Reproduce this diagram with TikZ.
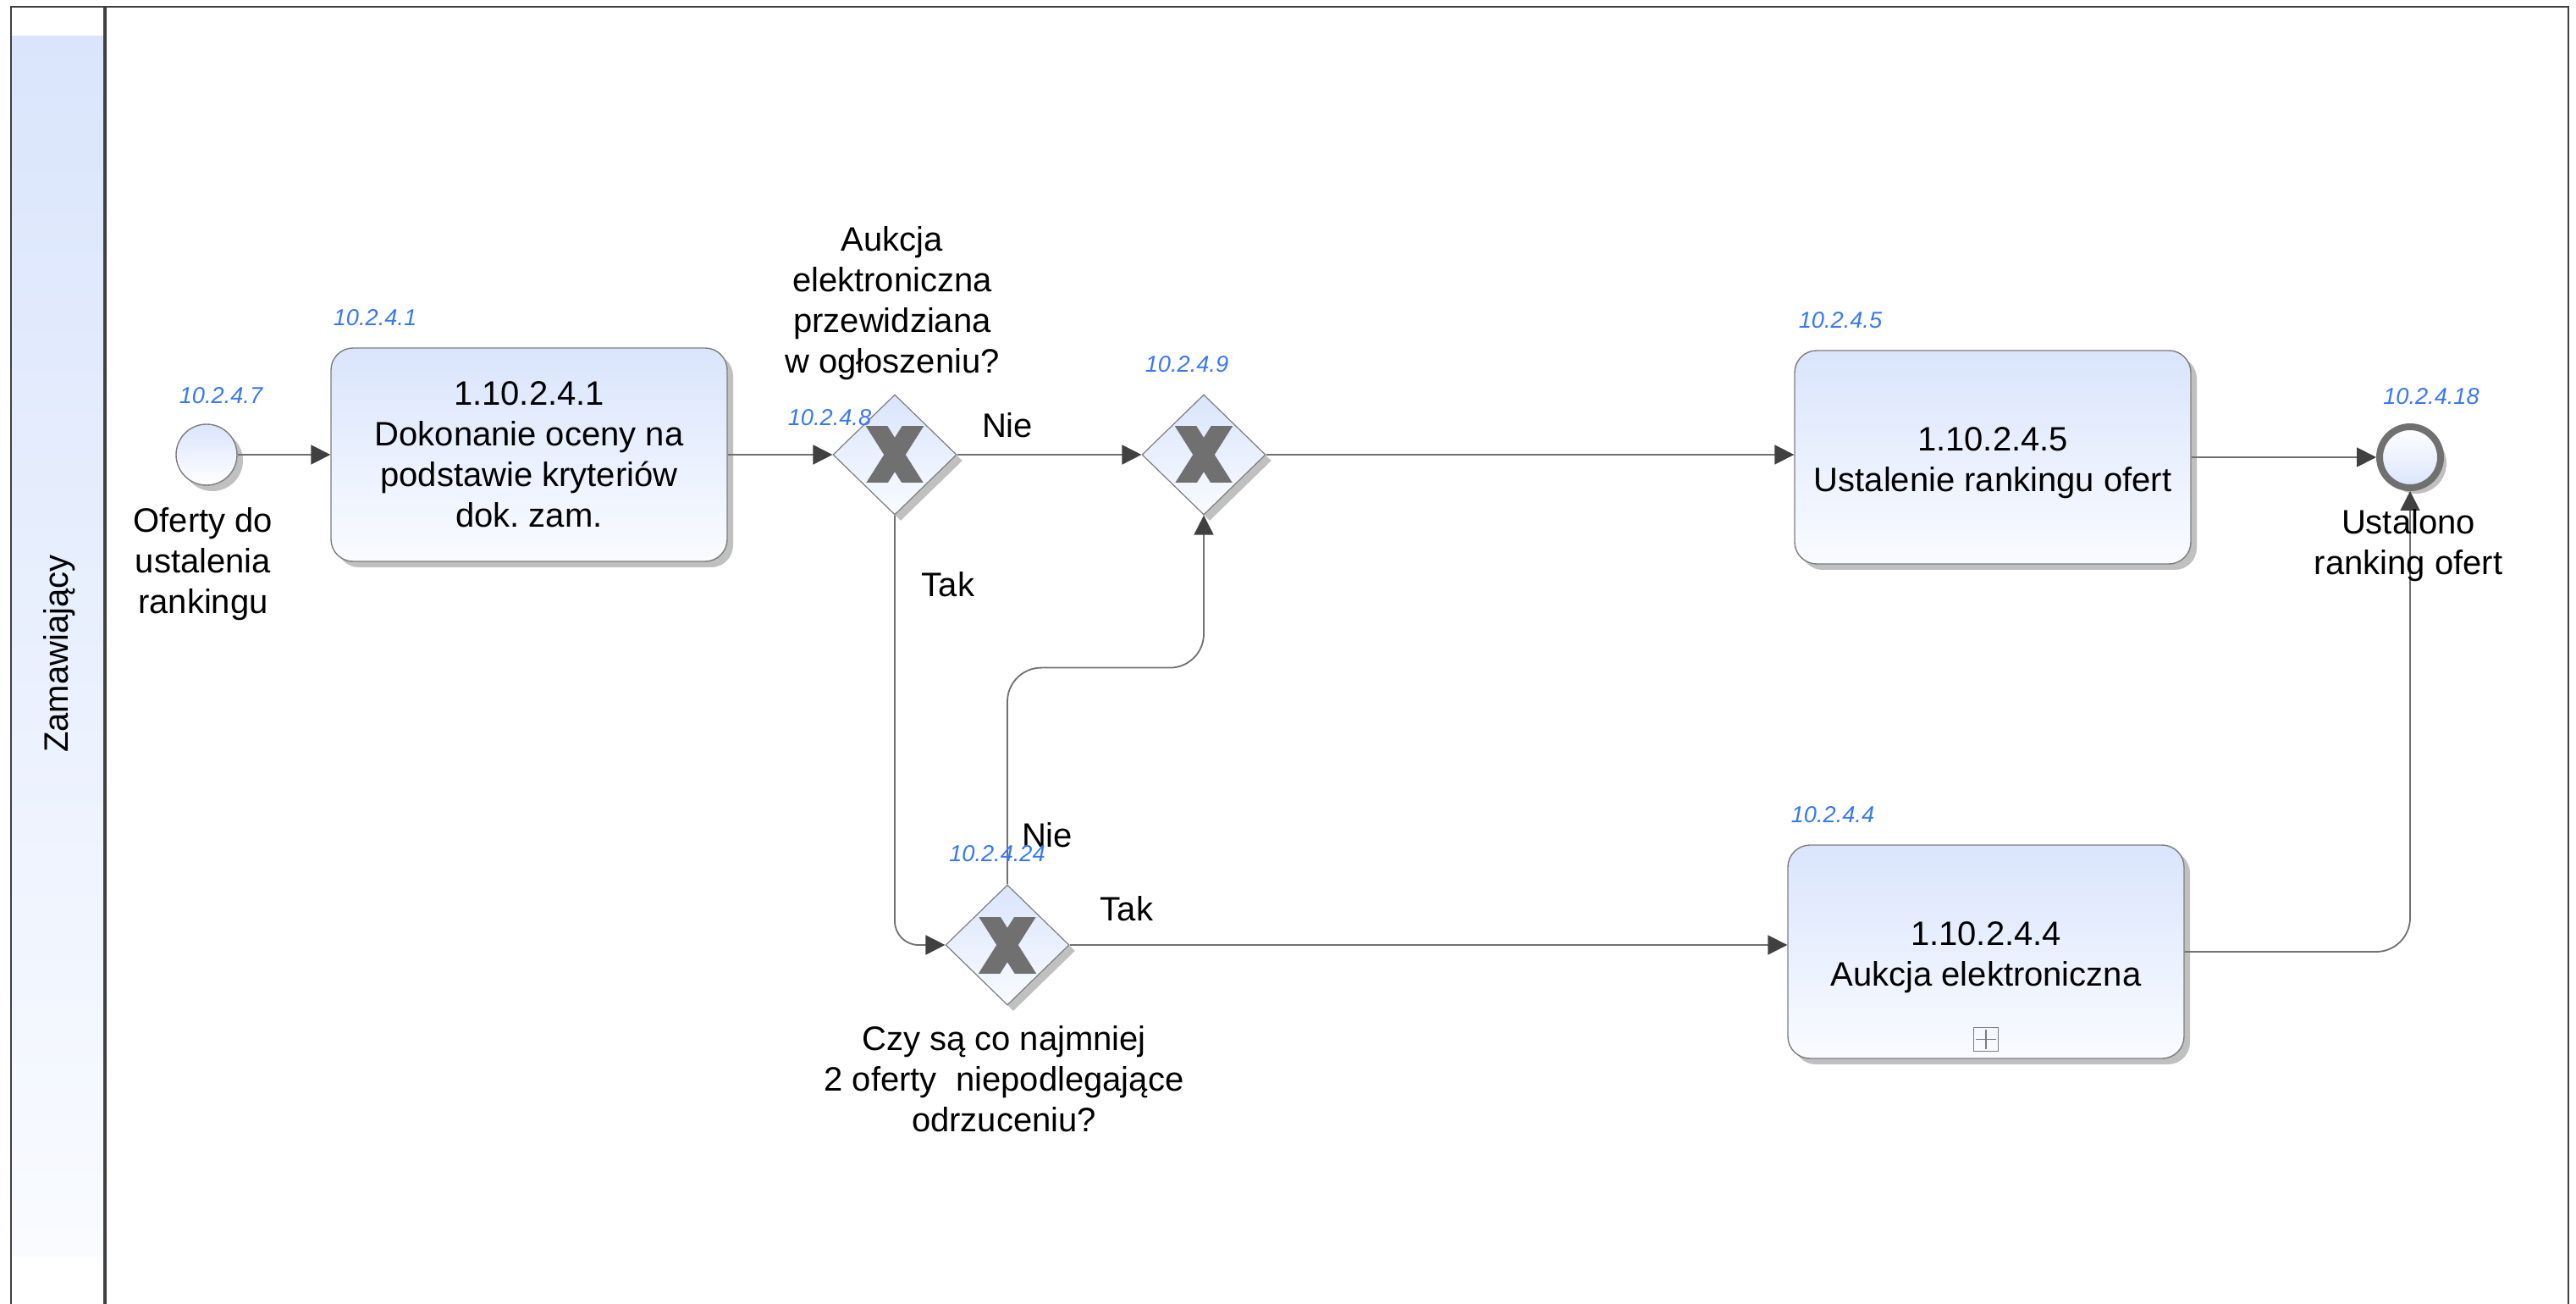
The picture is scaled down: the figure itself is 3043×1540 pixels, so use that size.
\documentclass[tikz,border=0pt]{standalone}
\usepackage{fontspec}
\setmainfont{Liberation Sans}
\usetikzlibrary{arrows.meta,shapes.geometric,shadows,calc}

\definecolor{lnc}{RGB}{112,112,112}
\definecolor{arc}{RGB}{64,64,64}
\definecolor{bdc}{RGB}{125,125,125}
\definecolor{shc}{RGB}{192,192,192}
\definecolor{idc}{RGB}{55,120,245}
\definecolor{topb}{RGB}{218,229,252}
\definecolor{botb}{RGB}{249,251,255}
\definecolor{poolc}{RGB}{64,64,64}
\definecolor{xc}{RGB}{112,112,112}

\newcommand\gwmark[1]{\begin{scope}[shift={(#1)}]\clip (-34,-33) rectangle (34,33);
  \draw[xc, line width=5.4pt] (-25,-39.5) -- (25,39.5) (25,-39.5) -- (-25,39.5);\end{scope}}

\frenchspacing
\begin{document}
\begin{tikzpicture}[x=0.25pt,y=-0.25pt,
  txt/.style={font=\fontsize{10}{12}\selectfont, text=black, inner sep=0pt, align=center},
  idl/.style={font=\fontsize{6.8}{8}\selectfont\itshape, text=idc, inner sep=0pt},
  shad/.style={drop shadow={shadow xshift=1.75pt, shadow yshift=-1.75pt, fill=shc, opacity=1}},
  task/.style={shad, rectangle, rounded corners=6.5pt, draw=bdc, line width=0.35pt, top color=topb, bottom color=botb, minimum width=117pt, minimum height=63pt, inner sep=0pt, align=center, font=\fontsize{10}{12}\selectfont},
  gw/.style={shad, diamond, draw=bdc, line width=0.3pt, top color=topb, bottom color=botb, minimum width=36.5pt, minimum height=35.5pt, inner sep=0pt},
  startev/.style={shad, circle, draw=bdc, line width=0.35pt, top color=topb, bottom color=white, minimum size=18pt, inner sep=0pt},
  endev/.style={shad, circle, draw=xc, line width=2pt, top color=white, bottom color=topb, minimum size=18pt, inner sep=0pt},
  flow/.style={draw=lnc, line width=0.45pt, -{Triangle[length=5.75pt,width=5.75pt,color=arc]}},
]
\useasboundingbox (0,0) rectangle (3043,1540);
\clip (0,0) rectangle (3043,1540);
\fill[white] (0,0) rectangle (3043,1540);

% pool and lane
\shade[top color=topb, bottom color=botb] (14,43) rectangle (123,1483);
\draw[poolc, line width=0.6pt] (13,1600) -- (13,8) -- (3034,8) -- (3034,1600);
\draw[poolc, line width=1pt] (124,8) -- (124,1600);
\node[txt, rotate=90] (lane) at (70,772) {Zamawiający};

% elements
\node[startev] (S) at (244,537) {};
\node[task] (T1) at (625,537) {1.10.2.4.1\\Dokonanie oceny na\\podstawie kryteriów\\dok. zam.};
\node[gw] (G1) at (1057,537) {};
\node[gw] (G2) at (1422,537) {};
\node[task] (T5) at (2354,540) {\rule{0pt}{10.2pt}1.10.2.4.5\\Ustalenie rankingu ofert};
\node[endev] (E) at (2847,540) {};
\node[gw] (G3) at (1190,1116) {};
\node[task] (T4) at (2346,1124) {\rule{0pt}{10.2pt}1.10.2.4.4\\Aukcja elektroniczna};
\node[draw=bdc, line width=0.35pt, minimum width=7.25pt, minimum height=7pt, inner sep=0pt] (T4m) at ($(T4.south)+(0,-23)$) {};
\draw[bdc, line width=0.35pt] ([yshift=-0.8pt]T4m.north) -- ([yshift=0.8pt]T4m.south) ([xshift=0.8pt]T4m.west) -- ([xshift=-0.8pt]T4m.east);

\gwmark{G1.center}
\gwmark{G2.center}
\gwmark{G3.center}

% connectors
\draw[flow] (S.east) -- (T1.west);
\draw[flow] (T1.east) -- (G1.west);
\draw[flow] (G1.east) -- (G2.west);
\draw[flow] (G2.east) -- (G2.east -| T5.west);
\draw[flow] (T5.east) -- (E.west);
\draw[flow, rounded corners=7pt] (G1.south) |- (G3.west);
\draw[flow, rounded corners=10pt] (G3.north) |- ($(G2.south)+(0,180)$) -- (G2.south);
\draw[flow] (G3.east) -- (G3.east -| T4.west);
\draw[flow, rounded corners=10pt] (T4.east) -| (E.south);

% labels
\node[txt, anchor=north] (Ls) at (240,599) {Oferty do\\ustalenia\\rankingu};
\node[txt, anchor=north] (Lg1) at (1054,267) {Aukcja\\elektroniczna\\przewidziana\\w ogłoszeniu?};
\node[txt, anchor=north] (Lg3) at (1186,1211) {Czy są co najmniej\\2 oferty\ \ niepodlegające\\odrzuceniu?};
\node[txt, anchor=north] (Le) at (2845,601) {Ustalono\\ranking ofert};
\node[txt, anchor=base] (n1) at (1190,517) {Nie};
\node[txt, anchor=base] (t1) at (1120,705) {Tak};
\node[txt, anchor=base] (n2) at (1237,1000) {Nie};
\node[txt, anchor=base] (t2) at (1331,1087) {Tak};

% ids
\node[idl] (i7) at (261,467) {10.2.4.7};
\node[idl] (i1) at (443,375) {10.2.4.1};
\node[idl] (i8) at (980,493) {10.2.4.8};
\node[idl] (i9) at (1402,430) {10.2.4.9};
\node[idl] (i5) at (2174,378) {10.2.4.5};
\node[idl] (i18) at (2872,468) {10.2.4.18};
\node[idl] (i24) at (1178,1008) {10.2.4.24};
\node[idl] (i4) at (2165,962) {10.2.4.4};
\end{tikzpicture}
\end{document}
